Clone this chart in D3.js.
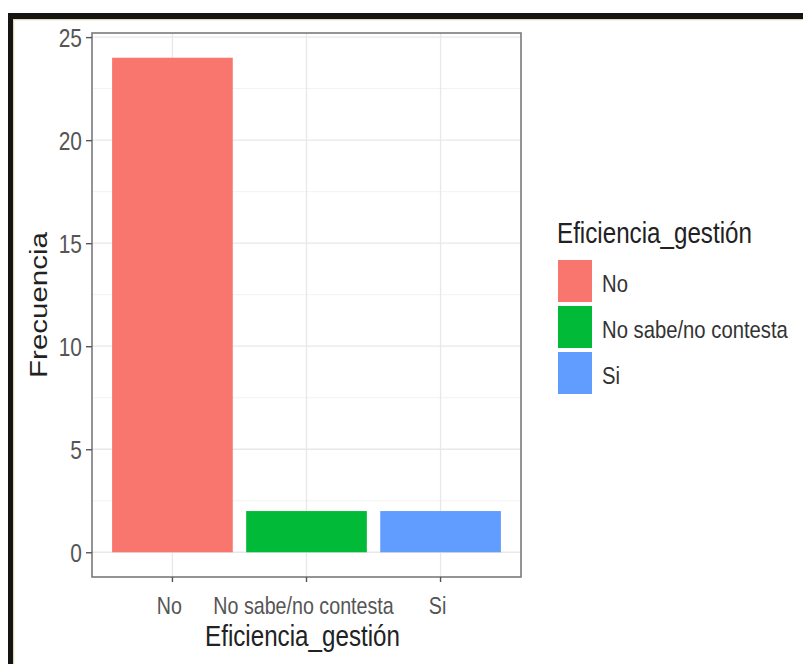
<!DOCTYPE html>
<html>
<head>
<meta charset="utf-8">
<script src="https://cdn.jsdelivr.net/npm/d3@7"></script>
<style>
  html, body { margin: 0; padding: 0; background: #fff; }
  svg { display: block; }
  text { font-family: "Liberation Sans", Arial, sans-serif; }
</style>
</head>
<body>
<script>
// ---- data ----
const categories = ["No", "No sabe/no contesta", "Si"];
const frecuencia = [24, 2, 2];
const colors = ["#F8766D", "#00BA38", "#619CFF"];
const yTicks = [0, 5, 10, 15, 20, 25];
const yMinorTicks = [2.5, 7.5, 12.5, 17.5, 22.5];
const xTitle = "Eficiencia_gestión";
const yTitle = "Frecuencia";
const legendTitle = "Eficiencia_gestión";

// ---- layout ----
const W = 803, H = 664;
const panel = { left: 92, right: 521, top: 33, bottom: 577 };
const SX = 0.82; // horizontal squeeze of glyphs (reference text is condensed)

const svg = d3.select("body").append("svg").attr("width", W).attr("height", H);

// frame of the screenshot
svg.append("rect").attr("x", 8).attr("y", 13).attr("width", W - 8).attr("height", 6).attr("fill", "#141414");
svg.append("rect").attr("x", 8).attr("y", 13).attr("width", 5).attr("height", H - 13).attr("fill", "#141414");
svg.append("rect").attr("x", 13).attr("y", 19).attr("width", W - 13).attr("height", 1.2).attr("fill", "#ddd8b0");
svg.append("rect").attr("x", 13).attr("y", 19).attr("width", 1.2).attr("height", H - 19).attr("fill", "#ddd8b0");

// scales
const x = d3.scaleBand()
  .domain(categories)
  .range([panel.left, panel.right])
  .paddingInner(0.1)
  .paddingOuter(0.15);

const yMax = d3.max(frecuencia);
const pad = yMax * 0.05;
const y = d3.scaleLinear()
  .domain([0 - pad, yMax + pad])
  .range([panel.bottom, panel.top]);

// grid
const grid = svg.append("g");
grid.selectAll(".minor").data(yMinorTicks).join("line")
  .attr("x1", panel.left).attr("x2", panel.right)
  .attr("y1", d => y(d)).attr("y2", d => y(d))
  .attr("stroke", "#f2f2f2").attr("stroke-width", 1);
grid.selectAll(".major").data(yTicks).join("line")
  .attr("x1", panel.left).attr("x2", panel.right)
  .attr("y1", d => y(d)).attr("y2", d => y(d))
  .attr("stroke", "#e8e8e8").attr("stroke-width", 1.3);
grid.selectAll(".vmajor").data(categories).join("line")
  .attr("x1", d => x(d) + x.bandwidth() / 2).attr("x2", d => x(d) + x.bandwidth() / 2)
  .attr("y1", panel.top).attr("y2", panel.bottom)
  .attr("stroke", "#e8e8e8").attr("stroke-width", 1.3);

// bars
svg.append("g").selectAll("rect").data(categories).join("rect")
  .attr("x", d => x(d))
  .attr("width", x.bandwidth())
  .attr("y", (d, i) => y(frecuencia[i]))
  .attr("height", (d, i) => y(0) - y(frecuencia[i]))
  .attr("fill", (d, i) => colors[i]);

// panel border
svg.append("rect")
  .attr("x", panel.left).attr("y", panel.top)
  .attr("width", panel.right - panel.left).attr("height", panel.bottom - panel.top)
  .attr("fill", "none").attr("stroke", "#7a7a7a").attr("stroke-width", 1.6);

// axes
const tickFont = 24;
const yAxis = svg.append("g")
  .attr("transform", `translate(${panel.left},0)`)
  .call(d3.axisLeft(y).tickValues(yTicks).tickSize(6).tickFormat(d3.format("d")));
yAxis.select(".domain").remove();
yAxis.selectAll(".tick line").attr("stroke", "#555").attr("stroke-width", 1.4);
yAxis.selectAll(".tick text")
  .attr("x", null).attr("dy", null)
  .attr("font-size", 25.5).attr("fill", "#555")
  .attr("font-family", "Liberation Sans, Arial, sans-serif")
  .attr("text-anchor", "end")
  .attr("transform", `translate(-10,9) scale(${SX},1)`);

const xAxis = svg.append("g")
  .attr("transform", `translate(0,${panel.bottom})`)
  .call(d3.axisBottom(x).tickSize(5));
xAxis.select(".domain").remove();
xAxis.selectAll(".tick line").attr("stroke", "#555").attr("stroke-width", 1.4);
xAxis.selectAll(".tick text")
  .attr("y", null).attr("dy", null)
  .attr("font-size", tickFont).attr("fill", "#555")
  .attr("font-family", "Liberation Sans, Arial, sans-serif")
  .attr("text-anchor", "middle")
  .attr("transform", `translate(-3,37) scale(${SX},1)`);

// axis titles
const titleFont = 29.5;
svg.append("text")
  .attr("transform", `translate(${(panel.left + panel.right) / 2 - 4},646) scale(${SX},1)`)
  .attr("text-anchor", "middle")
  .attr("font-size", titleFont).attr("fill", "#222")
  .text(xTitle);

svg.append("text")
  .attr("transform", `translate(47,${(panel.top + panel.bottom) / 2}) rotate(-90) scale(1,${SX})`)
  .attr("text-anchor", "middle")
  .attr("font-size", titleFont).attr("fill", "#222")
  .text(yTitle);

// legend
const lg = svg.append("g");
lg.append("text")
  .attr("transform", `translate(557,243) scale(${SX},1)`)
  .attr("font-size", titleFont).attr("fill", "#222")
  .text(legendTitle);
const keyH = 42, keyW = 34, keyStep = 46, keyTop = 260;
const items = lg.selectAll(".item").data(categories).join("g")
  .attr("transform", (d, i) => `translate(558,${keyTop + i * keyStep})`);
items.append("rect")
  .attr("width", keyW).attr("height", keyH)
  .attr("fill", (d, i) => colors[i]);
items.append("text")
  .attr("transform", `translate(44,${keyH / 2 + 11}) scale(${SX * 1.03},1)`)
  .attr("font-size", tickFont).attr("fill", "#333")
  .text(d => d);
</script>
</body>
</html>
